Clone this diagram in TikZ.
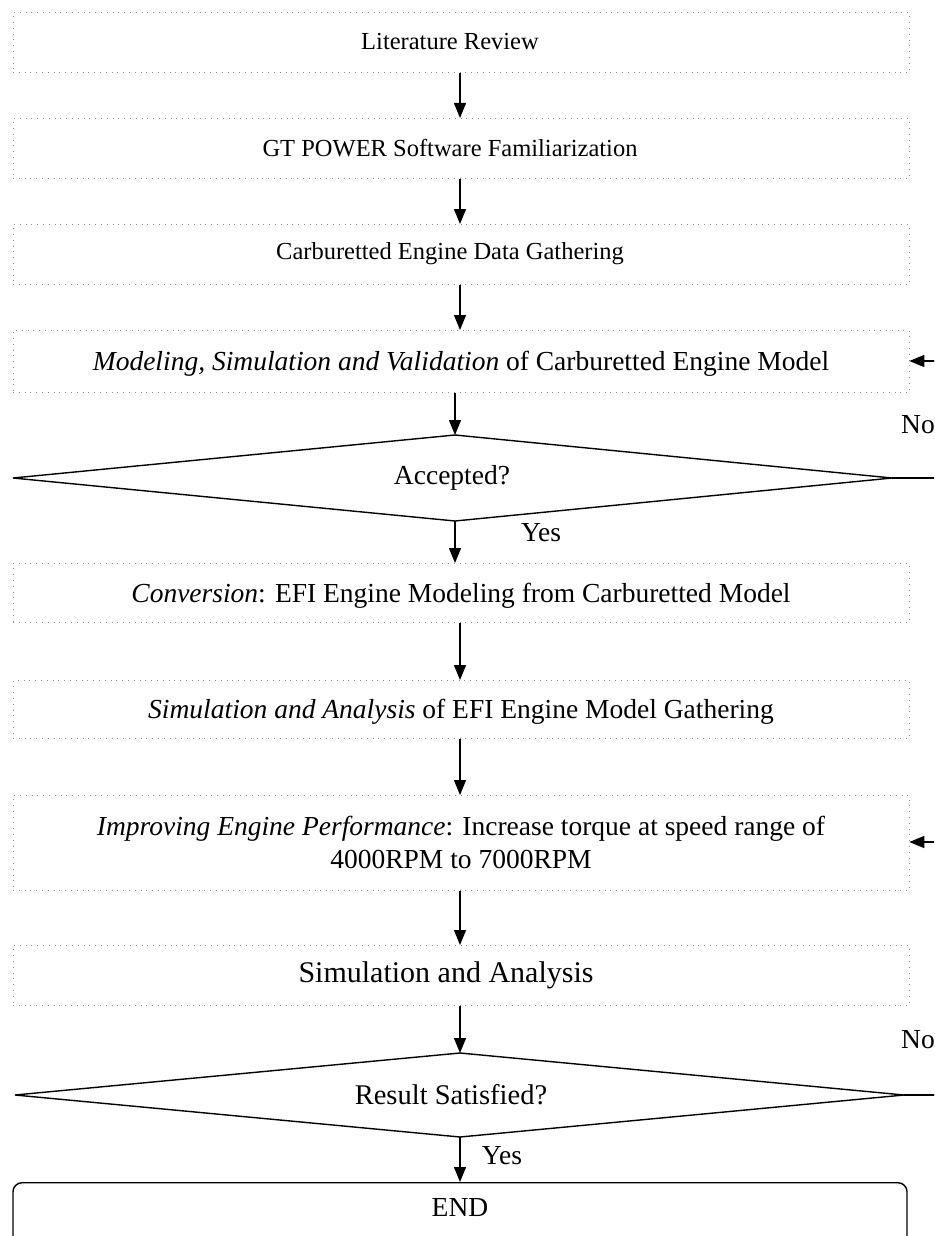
\documentclass[tikz,border=0pt]{standalone}
\usepackage{fontspec}
\setmainfont{Liberation Serif}
\usetikzlibrary{arrows.meta}
\begin{document}
\begin{tikzpicture}[x=1pt,y=-1pt,
  font=\fontsize{27.5}{33}\selectfont,
  stepbox/.style={draw=black!45,line width=0.6pt,dash pattern=on 0.8pt off 5pt,
    minimum width=896pt,inner sep=0pt,anchor=north,align=center,text depth=0pt},
  small/.style={font=\fontsize{24.5}{30}\selectfont},
  large/.style={font=\fontsize{30}{36}\selectfont},
  decide/.style={draw,line width=1.4pt},
  flow/.style={line width=1.3pt,-{Triangle[length=15pt,width=12pt]}},
  plain/.style={line width=1.3pt},
  lbl/.style={inner sep=1pt}]
\useasboundingbox (0,0) rectangle (934,1236);
\clip (0,0) rectangle (934,1236);

% process boxes
\node[stepbox,minimum height=60pt] (b1) at (461,12) {};
\node[small] (t1) at (450,42) {Literature Review};
\node[stepbox,minimum height=60pt] (b2) at (461,118) {};
\node[small] (t2) at (450,148) {GT POWER Software Familiarization};
\node[stepbox,minimum height=60pt] (b3) at (461,224) {};
\node[small] (t3) at (450,254) {Carburetted Engine Data Gathering};
\node[stepbox,minimum height=62pt] (b4) at (461,330) {\textit{Modeling, Simulation and Validation} of Carburetted Engine Model};

% decision 1
\coordinate (d1w) at (13,478);
\coordinate (d1n) at (455,435);
\coordinate (d1e) at (892,478);
\coordinate (d1s) at (455,521);
\draw[decide] (d1w) -- (d1n) -- (d1e) -- (d1s) -- cycle;
\node (d1) at (452,478) {Accepted?};

\node[stepbox,minimum height=59pt] (b5) at (461,563) {\textit{Conversion}: EFI Engine Modeling from Carburetted Model};
\node[stepbox,minimum height=58pt] (b6) at (461,680) {\textit{Simulation and Analysis} of EFI Engine Model Gathering};
\node[stepbox,minimum height=95pt] (b7) at (461,795) {\textit{Improving Engine Performance}: Increase torque at speed range of\\4000RPM to 7000RPM};
\node[stepbox,minimum height=60pt] (b8) at (461,945) {};
\node[large] (t8) at (446,975) {Simulation and Analysis};

% decision 2
\coordinate (d2w) at (15,1095);
\coordinate (d2n) at (460,1053);
\coordinate (d2e) at (904,1095);
\coordinate (d2s) at (460,1137);
\draw[decide] (d2w) -- (d2n) -- (d2e) -- (d2s) -- cycle;
\node[font=\fontsize{28.5}{34}\selectfont] (d2) at (451,1095) {Result Satisfied?};

\node[draw,line width=1.4pt,rounded corners=9pt,minimum width=894pt,minimum height=70pt,anchor=north] (end) at (460,1182) {};
\node (endtxt) at (460,1208) {END};

% main flow
\draw[flow] (b1.south -| 460,0) -- (b2.north -| 460,0);
\draw[flow] (b2.south -| 460,0) -- (b3.north -| 460,0);
\draw[flow] (b3.south -| 460,0) -- (b4.north -| 460,0);
\draw[flow] (b4.south -| d1n) -- (d1n);
\draw[flow] (d1s) -- (b5.north -| d1s);
\node[lbl] (yes1) at (541,533) {Yes};
\draw[flow] (b5.south -| 460,0) -- (b6.north -| 460,0);
\draw[flow] (b6.south -| 460,0) -- (b7.north -| 460,0);
\draw[flow] (b7.south -| 460,0) -- (b8.north -| 460,0);
\draw[flow] (b8.south -| d2n) -- (d2n);
\draw[flow] (d2s) -- (end.north -| d2s);
\node[lbl] (yes2) at (502,1156) {Yes};

% rejection loops leaving to the right
\coordinate (r1) at (960,478);
\coordinate (r1in) at (960,361);
\coordinate (r2) at (960,1095);
\coordinate (r2in) at (960,842);
\draw[plain] (d1e) -- (r1);
\node[lbl,anchor=west] (no1) at (900,425) {No};
\draw[flow] (r1in) -- (b4.east |- r1in);
\draw[plain] (d2e) -- (r2);
\node[lbl,anchor=west] (no2) at (900,1040) {No};
\draw[flow] (r2in) -- (b7.east |- r2in);
\end{tikzpicture}
\end{document}
